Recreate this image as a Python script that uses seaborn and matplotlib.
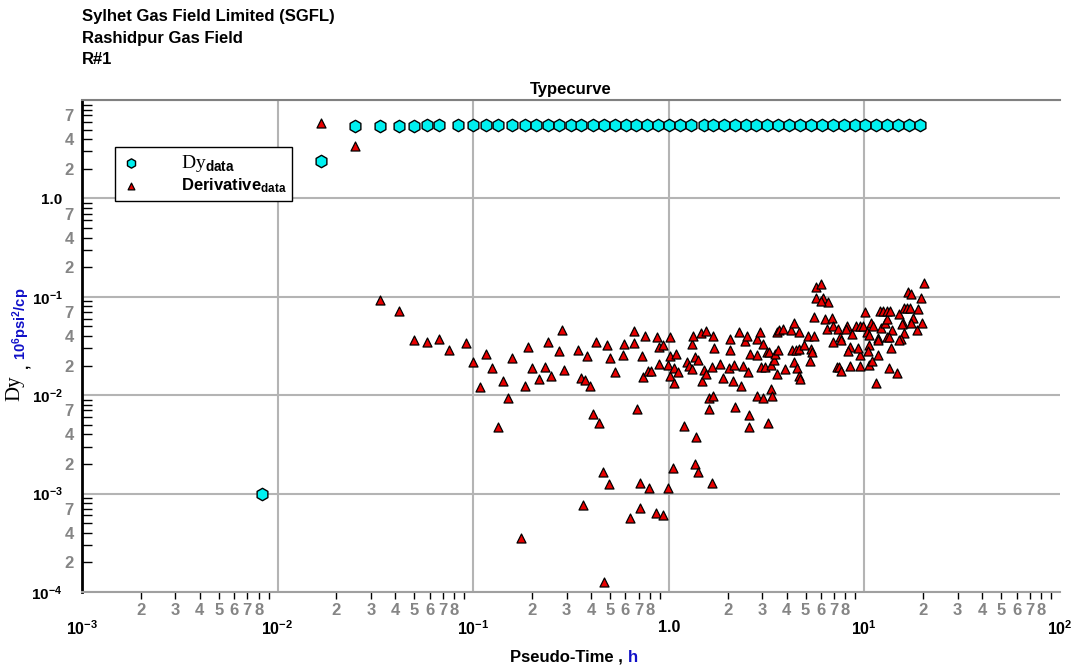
import matplotlib
matplotlib.use("Agg")
import matplotlib.pyplot as plt
import seaborn as sns
import pandas as pd
from matplotlib.ticker import FixedLocator, FixedFormatter

# --- data
dy_time = [0.00833, 0.0167, 0.025, 0.0333, 0.0417, 0.05, 0.0583, 0.0667, 0.0833, 0.1,
           0.1167, 0.1333, 0.1583, 0.1833, 0.209, 0.241, 0.275, 0.318, 0.355, 0.41,
           0.465, 0.529, 0.602, 0.683, 0.778, 0.885, 1.007, 1.146, 1.305, 1.507,
           1.68, 1.91, 2.17, 2.47, 2.80, 3.19, 3.63, 4.11, 4.68, 5.33,
           6.04, 6.88, 7.84, 8.91, 10.1, 11.5, 13.1, 14.9, 16.9, 19.2]
dy_value = [0.001, 2.4, 5.4, 5.4, 5.5, 5.5, 5.6, 5.6, 5.6, 5.6,
            5.6, 5.6, 5.6, 5.6, 5.6, 5.6, 5.6, 5.6, 5.6, 5.6,
            5.6, 5.6, 5.6, 5.6, 5.6, 5.6, 5.6, 5.6, 5.6, 5.6,
            5.6, 5.6, 5.6, 5.6, 5.6, 5.6, 5.6, 5.6, 5.6, 5.6,
            5.6, 5.6, 5.6, 5.6, 5.6, 5.6, 5.6, 5.6, 5.6, 5.6]

deriv_time = [
    0.0167, 0.025, 0.0333, 0.0417, 0.05, 0.0583, 0.0667, 0.075, 0.0917, 0.1,
    0.1167, 0.125, 0.1417, 0.1583, 0.1083, 0.15, 0.1333, 0.175, 0.1917, 0.2,
    0.1833, 0.2167, 0.2333, 0.2417, 0.25, 0.275, 0.2833, 0.2917, 0.3417, 0.355,
    0.372, 0.38, 0.394, 0.408, 0.438, 0.459, 0.492, 0.364, 0.464, 0.423,
    0.481, 0.498, 0.528, 0.587, 0.58, 0.631, 0.661, 0.661, 0.685, 0.71,
    0.71, 0.726, 0.735, 0.752, 0.779, 0.789, 0.807, 0.857, 0.867, 0.887,
    0.887, 0.931, 0.931, 0.987, 0.987, 1.01, 1.02, 1.02, 1.047, 1.06,
    1.06, 1.084, 1.11, 1.19, 1.235, 1.264, 1.31, 1.31, 1.325, 1.356,
    1.372, 1.356, 1.405, 1.405, 1.455, 1.472, 1.507, 1.544, 1.544, 1.60,
    1.60, 1.656, 1.656, 1.676, 1.695, 1.676, 1.82, 1.885, 2.02, 2.05,
    2.05, 2.12, 2.17, 2.15, 2.28, 2.33, 2.39, 2.44, 2.50, 2.53,
    2.56, 2.56, 2.59, 2.81, 2.84, 2.84, 2.91, 2.95, 3.02, 3.02,
    3.09, 3.16, 3.20, 3.24, 3.32, 3.32, 3.36, 3.44, 3.48, 3.56,
    3.56, 3.60, 3.65, 3.82, 3.91, 4.20, 4.25, 4.35, 4.35, 4.45,
    4.50, 4.61, 4.67, 4.61, 4.61, 4.89, 5.13, 5.25, 5.31, 5.50,
    5.50, 5.63, 5.97, 5.63, 6.11, 6.26, 6.41, 6.49, 5.97, 5.37,
    6.80, 6.88, 7.30, 8.11, 8.01, 8.60, 9.01, 9.44, 9.79, 10.3,
    10.1, 10.8, 11.1, 10.5, 10.6, 10.4, 9.44, 9.23, 8.40, 8.20,
    7.47, 7.55, 6.88, 7.21, 7.38, 7.55, 8.40, 9.55, 10.5, 10.9,
    11.8, 11.5, 11.8, 11.7, 12.2, 12.7, 13.1, 13.9, 13.0, 13.6,
    13.3, 14.6, 13.3, 12.0, 12.4, 13.0, 13.5, 15.0, 16.0, 16.6,
    17.2, 18.9, 17.8, 15.7, 15.5, 16.0, 15.3, 15.1, 17.4, 18.5,
    19.6, 16.8, 17.4, 19.4, 20.1]
deriv_value = [
    5.8, 3.4, 0.093, 0.072, 0.0364, 0.0347, 0.0373, 0.0288, 0.0339, 0.0217,
    0.0262, 0.0189, 0.0139, 0.0239, 0.0121, 0.0093, 0.0048, 0.00035, 0.0309, 0.0189,
    0.0124, 0.0146, 0.0193, 0.0347, 0.0156, 0.0281, 0.046, 0.018, 0.0288, 0.0149,
    0.0142, 0.025, 0.0124, 0.0064, 0.0052, 0.00164, 0.00124, 0.00077, 0.000126, 0.0347,
    0.0324, 0.0239, 0.0172, 0.0331, 0.0256, 0.00057, 0.045, 0.0339, 0.0072, 0.00129,
    0.00072, 0.025, 0.0153, 0.04, 0.0176, 0.00115, 0.0176, 0.00064, 0.0391, 0.0207,
    0.0309, 0.0324, 0.0006, 0.0202, 0.00115, 0.0156, 0.0391, 0.025, 0.0018, 0.0133,
    0.0189, 0.0262, 0.0172, 0.0049, 0.0217, 0.0198, 0.0331, 0.0184, 0.04, 0.0244,
    0.0038, 0.00198, 0.00164, 0.0228, 0.0429, 0.0139, 0.018, 0.0164, 0.045, 0.0093,
    0.0072, 0.0193, 0.00129, 0.04, 0.0302, 0.0098, 0.0207, 0.0149, 0.0189, 0.0373,
    0.0288, 0.0139, 0.0076, 0.0202, 0.044, 0.0124, 0.0198, 0.0356, 0.04, 0.0172,
    0.0063, 0.0048, 0.0262, 0.0373, 0.0256, 0.0098, 0.044, 0.0193, 0.0331, 0.0093,
    0.0193, 0.0275, 0.0052, 0.0275, 0.0202, 0.0115, 0.0098, 0.0228, 0.0262, 0.0164,
    0.044, 0.0288, 0.046, 0.0471, 0.0184, 0.046, 0.0288, 0.0543, 0.0217, 0.0288,
    0.0189, 0.0156, 0.0146, 0.044, 0.0295, 0.0324, 0.04, 0.0222, 0.0295, 0.0625,
    0.04, 0.126, 0.136, 0.0977, 0.0977, 0.0597, 0.0471, 0.0889, 0.091, 0.0275,
    0.0611, 0.0506, 0.0471, 0.0506, 0.0471, 0.0419, 0.0506, 0.0506, 0.0506, 0.044,
    0.0703, 0.0543, 0.0506, 0.041, 0.0324, 0.0281, 0.0256, 0.0302, 0.0309, 0.0281,
    0.0391, 0.0364, 0.0347, 0.0193, 0.0193, 0.0176, 0.0198, 0.0198, 0.0202, 0.0222,
    0.0256, 0.0133, 0.0382, 0.0364, 0.0483, 0.0543, 0.0597, 0.046, 0.0391, 0.0302,
    0.0189, 0.0168, 0.0391, 0.0719, 0.0719, 0.0719, 0.0719, 0.0671, 0.0772, 0.0772,
    0.0772, 0.0754, 0.0611, 0.0543, 0.053, 0.0429, 0.0373, 0.0364, 0.0543, 0.046,
    0.0543, 0.112, 0.107, 0.0977, 0.139]

x_major = [1e-3, 1e-2, 1e-1, 1.0, 1e1, 1e2]
x_major_labels = [r"$\mathbf{10^{-3}}$", r"$\mathbf{10^{-2}}$", r"$\mathbf{10^{-1}}$",
                  "1.0", r"$\mathbf{10^{1}}$", r"$\mathbf{10^{2}}$"]
y_major = [1e-4, 1e-3, 1e-2, 1e-1, 1.0, 1e1]
y_major_labels = [r"$\mathbf{10^{-4}}$", r"$\mathbf{10^{-3}}$", r"$\mathbf{10^{-2}}$",
                  r"$\mathbf{10^{-1}}$", "1.0", ""]
x_minor_digits = ["2", "3", "4", "5", "6", "7", "8", ""]
y_minor_digits = ["2", "", "4", "", "", "7", "", ""]

header_lines = ["Sylhet Gas Field Limited (SGFL)", "Rashidpur Gas Field", "R#1"]

dy_df = pd.DataFrame({"time": dy_time, "value": dy_value})
deriv_df = pd.DataFrame({"time": deriv_time, "value": deriv_value})

# --- style
sns.set_style("white")
plt.rcParams["font.family"] = ["Liberation Sans", "DejaVu Sans"]
plt.rcParams["font.weight"] = "bold"
plt.rcParams["text.color"] = "black"
plt.rcParams["mathtext.fontset"] = "custom"
plt.rcParams["mathtext.rm"] = "Liberation Sans:bold"
plt.rcParams["mathtext.bf"] = "Liberation Sans:bold"
plt.rcParams["mathtext.it"] = "Liberation Sans:bold:italic"

fig = plt.figure(figsize=(10.8, 6.71), dpi=100)
ax = fig.add_axes([82 / 1080, 1 - 592 / 671, 978 / 1080, 492 / 671])

sns.scatterplot(data=dy_df, x="time", y="value", marker="h", s=80,
                color="#00f0f0", edgecolor="black", linewidth=1.0,
                ax=ax, zorder=3, label="Dy")
sns.scatterplot(data=deriv_df, x="time", y="value", marker="^", s=42,
                color="#e80000", edgecolor="black", linewidth=0.9,
                ax=ax, zorder=4, label="Derivative")

ax.set_xscale("log")
ax.set_yscale("log")
ax.set_xlim(1e-3, 1e2)
ax.set_ylim(1e-4, 10)
ax.set_xlabel("")
ax.set_ylabel("")

# ticks
x_minor = [m * d for d in x_major[:-1] for m in range(2, 10)]
y_minor = [m * d for d in y_major[:-1] for m in range(2, 10)]
ax.xaxis.set_major_locator(FixedLocator(x_major))
ax.xaxis.set_major_formatter(FixedFormatter(x_major_labels))
ax.xaxis.set_minor_locator(FixedLocator(x_minor))
ax.xaxis.set_minor_formatter(FixedFormatter(x_minor_digits * (len(x_major) - 1)))
ax.yaxis.set_major_locator(FixedLocator(y_major))
ax.yaxis.set_major_formatter(FixedFormatter(y_major_labels))
ax.yaxis.set_minor_locator(FixedLocator(y_minor))
ax.yaxis.set_minor_formatter(FixedFormatter(y_minor_digits * (len(y_major) - 1)))

ax.tick_params(axis="x", which="major", length=0, pad=20, labelsize=11.5, labelcolor="black")
ax.tick_params(axis="x", which="minor", length=5, width=1, direction="out",
               color="black", pad=3, labelsize=12, labelcolor="#858585")
ax.tick_params(axis="y", which="major", length=0, pad=14, labelsize=11, labelcolor="black")
ax.tick_params(axis="y", which="minor", length=7, width=1, direction="in",
               color="black", pad=6, labelsize=12, labelcolor="#858585")
ax.tick_params(bottom=True, left=True, which="both")

ax.grid(True, which="major", color="#b4b4b4", linewidth=1.5)
ax.grid(False, which="minor")
ax.set_axisbelow(True)
# no vertical line at the right edge
ax.xaxis.get_gridlines()[-1].set_visible(False)

ax.spines["left"].set_color("black")
ax.spines["left"].set_linewidth(2)
ax.spines["bottom"].set_color("#a0a0a0")
ax.spines["bottom"].set_linewidth(1.5)
ax.spines["top"].set_color("#808080")
ax.spines["top"].set_linewidth(1.5)
ax.spines["right"].set_visible(False)

ax.set_title("Typecurve", fontsize=12, fontweight="bold", pad=4, color="black")

# legend
handles, _ = ax.get_legend_handles_labels()
leg = ax.legend(handles, [r"Dy$_{\mathbf{data}}$", r"Derivative$_{\mathbf{data}}$"],
                loc="upper left", bbox_to_anchor=(0.0337, 0.9045), borderaxespad=0,
                frameon=True, fancybox=False, edgecolor="black", framealpha=1,
                fontsize=12, markerscale=0.75, handlelength=1.2, handletextpad=2.4,
                borderpad=0.35, labelspacing=0.15)
leg.get_frame().set_linewidth(1)
for t in leg.get_texts():
    t.set_color("black")
leg.get_texts()[0].set_family(["Liberation Serif"])
leg.get_texts()[0].set_fontweight("normal")
leg.get_texts()[0].set_fontsize(14)

# header
for i, line in enumerate(header_lines):
    fig.text(82 / 1080, 1 - (16 + 22 * i) / 671, line, fontsize=12,
             fontweight="bold", va="center", ha="left", color="black")

# y label: serif "Dy", black comma, blue units
fig.text(15 / 1080, 1 - 401 / 671, "Dy", family=["Liberation Serif"], fontsize=15,
         fontweight="normal", rotation=90, ha="center", va="bottom", color="black")
fig.text(23 / 1080, 1 - 368 / 671, ",", fontsize=11, fontweight="bold",
         rotation=90, ha="center", va="bottom", color="black")
fig.text(21 / 1080, 1 - 360 / 671, r"10$^{6}$psi$^{2}$/cp", fontsize=10.5,
         fontweight="bold", color="#1010c8", rotation=90, ha="center", va="bottom")

# x label: black text, blue unit
fig.text(627 / 1080, 1 - 657 / 671, "Pseudo-Time , ", fontsize=12,
         fontweight="bold", ha="right", va="center", color="black")
fig.text(628 / 1080, 1 - 657 / 671, "h", fontsize=12, fontweight="bold",
         color="#1010c8", ha="left", va="center")

fig.savefig("out.png", dpi=100)
